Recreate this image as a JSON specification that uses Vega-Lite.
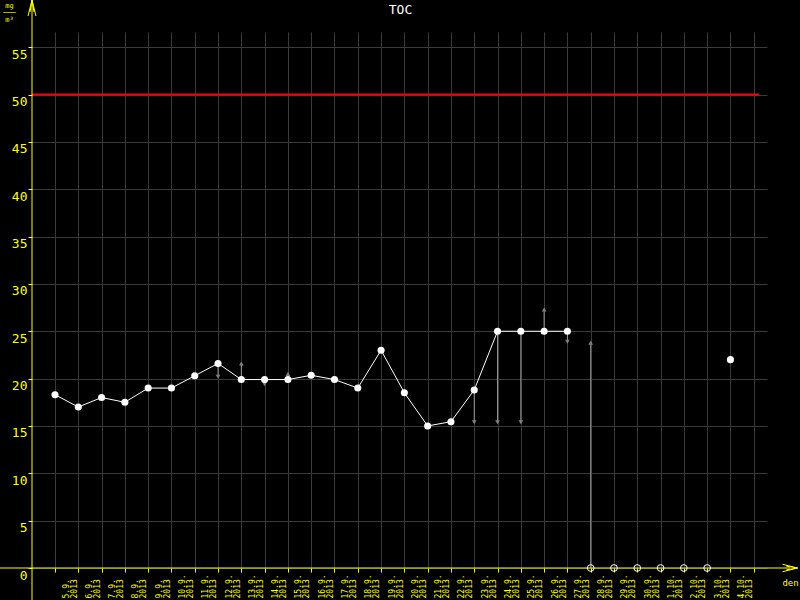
{
  "$schema": "https://vega.github.io/schema/vega-lite/v6.json",
  "width": 735,
  "height": 536,
  "autosize": {"type": "none"},
  "padding": {"left": 32, "top": 32, "right": 33, "bottom": 32},
  "background": "#000000",
  "config": {"view": {"stroke": null}},
  "datasets": {
    "pts": [
      {"date": "2013-09-05", "value": 18.3, "series": "a"},
      {"date": "2013-09-06", "value": 17.0, "series": "a"},
      {"date": "2013-09-07", "value": 18.0, "series": "a"},
      {"date": "2013-09-08", "value": 17.5, "series": "a"},
      {"date": "2013-09-09", "value": 19.0, "series": "a"},
      {"date": "2013-09-10", "value": 19.0, "series": "a"},
      {"date": "2013-09-11", "value": 20.3, "series": "a"},
      {"date": "2013-09-12", "value": 21.6, "series": "a"},
      {"date": "2013-09-13", "value": 19.9, "series": "a"},
      {"date": "2013-09-14", "value": 19.9, "series": "a"},
      {"date": "2013-09-15", "value": 19.9, "series": "a"},
      {"date": "2013-09-16", "value": 20.35, "series": "a"},
      {"date": "2013-09-17", "value": 19.9, "series": "a"},
      {"date": "2013-09-18", "value": 19.0, "series": "a"},
      {"date": "2013-09-19", "value": 23.0, "series": "a"},
      {"date": "2013-09-20", "value": 18.5, "series": "a"},
      {"date": "2013-09-21", "value": 15.0, "series": "a"},
      {"date": "2013-09-22", "value": 15.45, "series": "a"},
      {"date": "2013-09-23", "value": 18.8, "series": "a"},
      {"date": "2013-09-24", "value": 25.0, "series": "a"},
      {"date": "2013-09-25", "value": 25.0, "series": "a"},
      {"date": "2013-09-26", "value": 25.0, "series": "a"},
      {"date": "2013-09-27", "value": 25.0, "series": "a"},
      {"date": "2013-10-04", "value": 22.0, "series": "b"}
    ],
    "arrows": [
      {"date": "2013-09-12", "value": 21.6, "value2": 20.2, "dir": "down"},
      {"date": "2013-09-13", "value": 19.9, "value2": 21.6, "dir": "up"},
      {"date": "2013-09-14", "value": 19.9, "value2": 19.4, "dir": "down"},
      {"date": "2013-09-15", "value": 19.9, "value2": 20.5, "dir": "up"},
      {"date": "2013-09-23", "value": 18.8, "value2": 15.4, "dir": "down"},
      {"date": "2013-09-24", "value": 25.0, "value2": 15.4, "dir": "down"},
      {"date": "2013-09-25", "value": 25.0, "value2": 15.4, "dir": "down"},
      {"date": "2013-09-26", "value": 25.0, "value2": 27.3, "dir": "up"},
      {"date": "2013-09-27", "value": 25.0, "value2": 23.9, "dir": "down"},
      {"date": "2013-09-28", "value": 0, "value2": 23.8, "dir": "up"}
    ],
    "zeros": [
      {"date": "2013-09-28", "value": 0},
      {"date": "2013-09-29", "value": 0},
      {"date": "2013-09-30", "value": 0},
      {"date": "2013-10-01", "value": 0},
      {"date": "2013-10-02", "value": 0},
      {"date": "2013-10-03", "value": 0}
    ],
    "limit": [
      {"date": "2013-09-04T00:18:00Z", "date2": "2013-10-05T05:30:00Z", "value": 50}
    ],
    "xline": [
      {"date": "2013-09-02T12:00:00Z", "date2": "2013-10-06T13:40:00Z", "value": 0}
    ],
    "yline": [
      {"date": "2013-09-04T00:18:00Z", "value": -5, "value2": 60}
    ],
    "yarrow": [
      {"date": "2013-09-04T00:18:00Z", "value": 59.13}
    ],
    "xarrow": [
      {"date": "2013-10-06T13:24:00Z", "value": 0}
    ],
    "unit": [
      {"date": "2013-09-04T00:18:00Z", "value": 59.1, "label": "mg\n───\nm³"}
    ]
  },
  "encoding": {
    "x": {
      "field": "date",
      "type": "temporal",
      "scale": {
        "type": "utc",
        "domain": [
          {"year": 2013, "month": 9, "date": 4, "hours": 0, "minutes": 18, "utc": true},
          {"year": 2013, "month": 10, "date": 5, "hours": 13, "minutes": 40, "utc": true}
        ]
      },
      "axis": {
        "title": "den",
        "titleColor": "#ffff00",
        "titleFont": "DejaVu Sans Mono",
        "titleFontSize": 9,
        "titleFontWeight": "normal",
        "titleX": 758,
        "titleY": 17,
        "titleAlign": "center",
        "titleBaseline": "alphabetic",
        "tickCount": {"interval": "day", "step": 1},
        "labelExpr": "utcmonth(datum.value) == 9 && utcdate(datum.value) == 5 ? '' : [utcFormat(datum.value, '%-d.%-m.'), utcFormat(datum.value, '%Y')]",
        "labelAngle": 270,
        "labelAlign": "left",
        "labelBaseline": "top",
        "labelOffset": 7,
        "labelPadding": 26,
        "labelLineHeight": 8,
        "labelFont": "DejaVu Sans Mono",
        "labelFontSize": 8,
        "labelColor": "#ffff00",
        "labelOverlap": false,
        "labelFlush": false,
        "labelBound": false,
        "domain": false,
        "ticks": true,
        "tickColor": "#ffff00",
        "tickSize": 4,
        "grid": true,
        "gridColor": "#3a3a3a",
        "gridWidth": 1
      }
    },
    "y": {
      "field": "value",
      "type": "quantitative",
      "scale": {"domain": [0, 56.6], "nice": false, "zero": false},
      "axis": {
        "title": "TOC",
        "titleColor": "#ffffff",
        "titleFont": "DejaVu Sans Mono",
        "titleFontSize": 13,
        "titleFontWeight": "normal",
        "titleAngle": 0,
        "titleAlign": "center",
        "titleBaseline": "alphabetic",
        "titleX": 368,
        "titleY": -19,
        "values": [0, 5, 10, 15, 20, 25, 30, 35, 40, 45, 50, 55],
        "domain": false,
        "grid": true,
        "gridColor": "#3a3a3a",
        "gridWidth": 1,
        "tickColor": "#ffff00",
        "tickSize": 4,
        "labelColor": "#ffff00",
        "labelFont": "DejaVu Sans Mono",
        "labelFontSize": 13,
        "labelBaseline": "top",
        "labelAlign": "right",
        "labelPadding": 1,
        "labelOffset": 1,
        "labelFlush": false,
        "labelOverlap": false
      }
    }
  },
  "layer": [
    {
      "data": {"name": "limit"},
      "mark": {"type": "rule", "color": "#ff0000", "strokeWidth": 2},
      "encoding": {"x2": {"field": "date2"}}
    },
    {
      "data": {"name": "arrows"},
      "mark": {"type": "rule", "color": "#999999", "strokeWidth": 1},
      "encoding": {"y2": {"field": "value2"}}
    },
    {
      "data": {"name": "arrows"},
      "mark": {"type": "point", "filled": true, "color": "#808080", "size": 22, "opacity": 1},
      "encoding": {
        "y": {"field": "value2", "type": "quantitative"},
        "shape": {"field": "dir", "type": "nominal", "scale": {"domain": ["up", "down"], "range": ["triangle-up", "triangle-down"]}, "legend": null}
      }
    },
    {
      "data": {"name": "xline"},
      "mark": {"type": "rule", "color": "#ffff00", "strokeWidth": 1},
      "encoding": {"x2": {"field": "date2"}}
    },
    {
      "data": {"name": "yline"},
      "mark": {"type": "rule", "color": "#ffff00", "strokeWidth": 1},
      "encoding": {"y2": {"field": "value2"}}
    },
    {
      "data": {"name": "yarrow"},
      "mark": {"type": "point", "shape": "M0,-1L-0.5,1M0,-1L0.5,1M0,-1L-0.25,0.5M0,-1L0.25,0.5", "size": 256, "filled": false, "stroke": "#ffff00", "strokeWidth": 1, "opacity": 1}
    },
    {
      "data": {"name": "xarrow"},
      "mark": {"type": "point", "shape": "M1,0L-1,-0.5M1,0L-1,0.5M1,0L-0.5,-0.25M1,0L-0.5,0.25", "size": 225, "filled": false, "stroke": "#ffff00", "strokeWidth": 1, "opacity": 1}
    },
    {
      "data": {"name": "unit"},
      "mark": {"type": "text", "color": "#ffff00", "font": "DejaVu Sans Mono", "fontSize": 7, "lineBreak": "\n", "lineHeight": 7, "align": "center", "baseline": "alphabetic", "dx": -22.5},
      "encoding": {"text": {"field": "label"}}
    },
    {
      "data": {"name": "pts"},
      "mark": {"type": "line", "color": "#ffffff", "strokeWidth": 1},
      "encoding": {"detail": {"field": "series"}}
    },
    {
      "data": {"name": "pts"},
      "mark": {"type": "circle", "color": "#ffffff", "size": 50, "opacity": 1}
    },
    {
      "data": {"name": "zeros"},
      "mark": {"type": "point", "shape": "circle", "filled": false, "stroke": "#ffffff", "strokeWidth": 1, "size": 45, "opacity": 1}
    }
  ]
}
